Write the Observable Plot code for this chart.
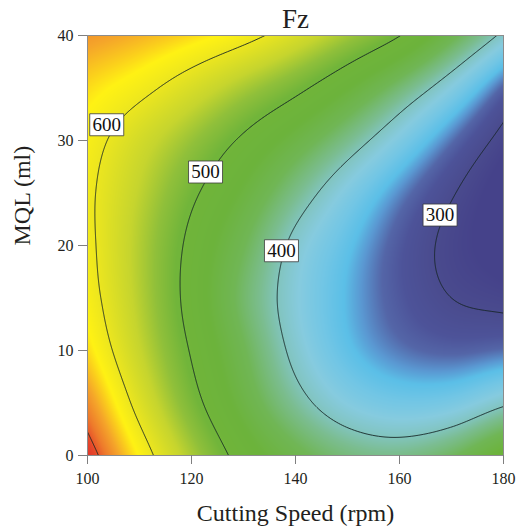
<!DOCTYPE html>
<html>
<head>
<meta charset="utf-8">
<script src="https://cdn.jsdelivr.net/npm/d3@7"></script>
<script src="https://cdn.jsdelivr.net/npm/@observablehq/plot@0.6"></script>
<style>
  html, body { margin: 0; padding: 0; background: #fff; }
</style>
</head>
<body>
<div id="chart"></div>
<script>
// ---- data ----
const speeds = [100, 110, 120, 130, 140, 150, 160, 170, 180];   // Cutting Speed (rpm)
const mql = [0, 5, 10, 15, 20, 25, 30, 35, 40];                 // MQL (ml)
// Fz estimated at each (mql row, speed column)
const fz = [
  [721, 623, 545, 485, 448, 424, 418, 436, 478],
  [675, 586, 514, 457, 412, 381, 368, 372, 395],
  [636, 562, 497, 442, 392, 356, 335, 327, 332],
  [617, 551, 487, 431, 385, 350, 322, 300, 290],
  [610, 549, 491, 441, 392, 356, 322, 291, 268],
  [608, 557, 507, 463, 418, 377, 339, 303, 267],
  [616, 574, 534, 494, 456, 417, 376, 333, 289],
  [635, 611, 579, 544, 510, 470, 427, 381, 327],
  [668, 654, 636, 613, 579, 540, 501, 447, 393]
];
const levels = [300, 400, 500, 600, 700];
const labelLevels = [600, 500, 400, 300];
const labelSpeed = [103.7, 122.7, 137.3, 167.8];
const labelMql = [31.5, 27.0, 19.5, 22.9];
const xTicks = [100, 120, 140, 160, 180];
const yTicks = [0, 10, 20, 30, 40];
const colorStops = [280, 300, 318, 330, 342, 352, 366, 382, 398, 415, 440, 470, 505, 530, 560, 600, 625, 640, 660, 685, 705, 725, 750];
const colorRange = ["#45428a", "#4a4b8e", "#4d5399", "#5466a8", "#5a98d2", "#5bbfe7", "#72c6e5", "#86cbdf", "#82c5c2",
  "#7bbd90", "#70b655", "#6cb33b", "#71b53a", "#90c03a", "#c6d52e", "#ece61f", "#fff214", "#fbd01c",
  "#f5a52a", "#ee7a2b", "#e6482a", "#e0302a", "#db2027"];

// smooth (Catmull-Rom) reading of the gridded values
function cell(i, j) {
  const ni = mql.length, nj = speeds.length;
  if (i < 0) return 2 * cell(0, j) - cell(1, j);
  if (i >= ni) return 2 * cell(ni - 1, j) - cell(ni - 2, j);
  if (j < 0) return 2 * cell(i, 0) - cell(i, 1);
  if (j >= nj) return 2 * cell(i, nj - 1) - cell(i, nj - 2);
  return fz[i][j];
}
function cr(p0, p1, p2, p3, t) {
  return p1 + 0.5 * t * (p2 - p0 + t * (2 * p0 - 5 * p1 + 4 * p2 - p3 + t * (3 * (p1 - p2) + p3 - p0)));
}
function surface(v, q) {
  const fx = (v - speeds[0]) / (speeds[1] - speeds[0]);
  const fy = (q - mql[0]) / (mql[1] - mql[0]);
  const j = Math.min(Math.max(Math.floor(fx), 0), speeds.length - 2);
  const i = Math.min(Math.max(Math.floor(fy), 0), mql.length - 2);
  const tx = fx - j, ty = fy - i;
  const r = [-1, 0, 1, 2].map(d => cr(cell(i + d, j - 1), cell(i + d, j), cell(i + d, j + 1), cell(i + d, j + 2), tx));
  return cr(r[0], r[1], r[2], r[3], ty);
}

const boxSymbol = {
  draw(ctx) {
    ctx.moveTo(-17, -11); ctx.lineTo(17, -11); ctx.lineTo(17, 11); ctx.lineTo(-17, 11); ctx.closePath();
  }
};
const serif = "'Liberation Serif', 'Times New Roman', serif";
const idx = d3.range(labelLevels.length);

const chart = Plot.plot({
  width: 527,
  height: 529,
  marginLeft: 87,
  marginRight: 24,
  marginTop: 35,
  marginBottom: 74,
  style: { fontFamily: serif, fontSize: "16px", background: "#fff", color: "#231f20" },
  x: { domain: [100, 180] },
  y: { domain: [0, 40] },
  color: { type: "linear", domain: colorStops, range: colorRange, clamp: true, interpolate: "rgb" },
  marks: [
    Plot.raster({ x1: 100, x2: 180, y1: 0, y2: 40, fill: surface, pixelSize: 1 }),
    Plot.contour({ x1: 99, x2: 181, y1: -0.5, y2: 40.5, value: surface, thresholds: levels,
      fill: "none", stroke: "#142424", strokeOpacity: 0.9, strokeWidth: 1, pixelSize: 1, clip: true }),
    Plot.frame({ stroke: "#8c8c8c" }),
    Plot.axisX({ ticks: xTicks, tickSize: 9, tickPadding: 8, stroke: "#7f7f7f", fill: "#231f20", label: null, fontSize: 16 }),
    Plot.axisY({ ticks: yTicks, tickSize: 9, tickPadding: 5, stroke: "#7f7f7f", fill: "#231f20", label: null, fontSize: 16 }),
    Plot.dot(idx, { x: i => labelSpeed[i], y: i => labelMql[i], symbol: boxSymbol, fill: "white", stroke: "#3a3a3a", strokeWidth: 0.8 }),
    Plot.text(idx, { x: i => labelSpeed[i], y: i => labelMql[i], text: i => String(labelLevels[i]), fontSize: 19, fill: "#111" }),
    Plot.text(["Fz"], { frameAnchor: "top", lineAnchor: "bottom", dy: -8, fontSize: 27, fill: "#231f20" }),
    Plot.text(["Cutting Speed (rpm)"], { frameAnchor: "bottom", lineAnchor: "bottom", dy: 65, fontSize: 24, fill: "#231f20" }),
    Plot.text(["MQL (ml)"], { frameAnchor: "left", lineAnchor: "bottom", rotate: -90, dx: -58, fontSize: 24, fill: "#231f20" })
  ]
});
document.getElementById("chart").appendChild(chart);
</script>
</body>
</html>
